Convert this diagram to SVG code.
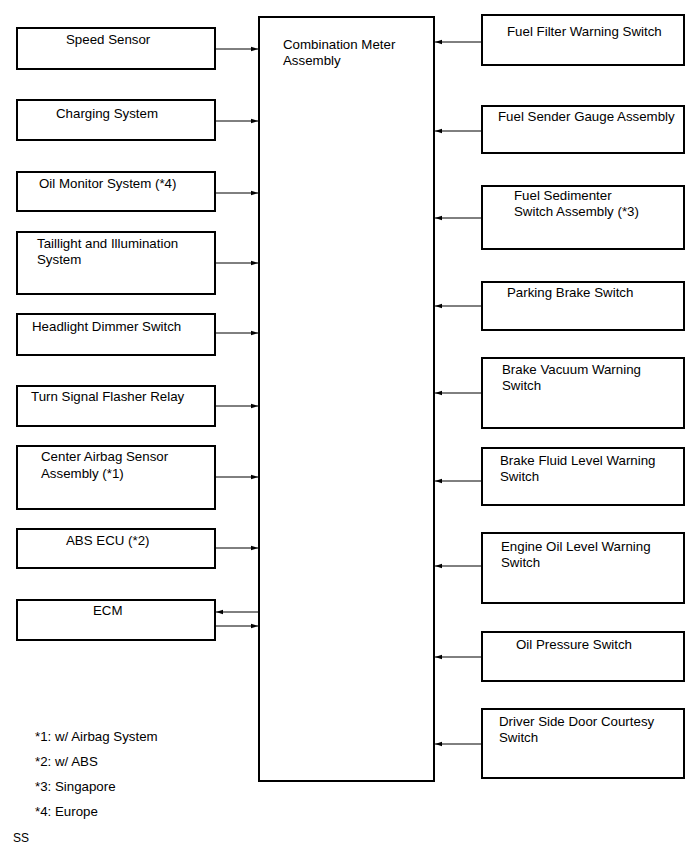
<svg xmlns="http://www.w3.org/2000/svg" width="691" height="854" viewBox="0 0 691 854">
<style>
.box{fill:#fff;stroke:#000;stroke-width:2}
.t{font-family:"Liberation Sans",Arial,sans-serif;font-size:13.3px;fill:#000}
.n{font-family:"Liberation Sans",Arial,sans-serif;font-size:13.3px;fill:#000}
.c{stroke:#000;stroke-width:1;fill:none;marker-end:url(#ah)}
</style>
<defs>
<marker id="ah" markerUnits="userSpaceOnUse" markerWidth="8" markerHeight="6" refX="7" refY="3" orient="auto">
<path d="M0,0.8 L7,3 L0,5.2 Z" fill="#000"/>
</marker>
</defs>
<rect width="691" height="854" fill="#fff"/>
<g id="meter"><rect class="box" x="259" y="17" width="175" height="764"/><text class="t" x="283" y="49">Combination Meter</text><text class="t" x="283" y="65">Assembly</text></g>
<g id="speed"><rect class="box" x="17" y="28" width="198" height="41"/><text class="t" x="66" y="44">Speed Sensor</text></g>
<g id="charging"><rect class="box" x="17" y="100" width="198" height="40"/><text class="t" x="56" y="118">Charging System</text></g>
<g id="oilmon"><rect class="box" x="17" y="172" width="198" height="39"/><text class="t" x="39" y="188">Oil Monitor System (*4)</text></g>
<g id="taillight"><rect class="box" x="17" y="232" width="198" height="62"/><text class="t" x="37" y="248">Taillight and Illumination</text><text class="t" x="37" y="264">System</text></g>
<g id="headlight"><rect class="box" x="17" y="314" width="198" height="41"/><text class="t" x="32" y="331">Headlight Dimmer Switch</text></g>
<g id="turn"><rect class="box" x="17" y="386" width="198" height="40"/><text class="t" x="31" y="401">Turn Signal Flasher Relay</text></g>
<g id="airbag"><rect class="box" x="17" y="446" width="198" height="63"/><text class="t" x="41" y="461">Center Airbag Sensor</text><text class="t" x="41" y="478">Assembly (*1)</text></g>
<g id="abs"><rect class="box" x="17" y="529" width="198" height="39"/><text class="t" x="66" y="545">ABS ECU (*2)</text></g>
<g id="ecm"><rect class="box" x="17" y="600" width="198" height="40"/><text class="t" x="93" y="615">ECM</text></g>
<g id="fuelfilter"><rect class="box" x="482" y="15" width="202" height="50"/><text class="t" x="507" y="36">Fuel Filter Warning Switch</text></g>
<g id="fuelsender"><rect class="box" x="482" y="106" width="202" height="47"/><text class="t" x="498" y="121">Fuel Sender Gauge Assembly</text></g>
<g id="sedimenter"><rect class="box" x="482" y="186" width="202" height="63"/><text class="t" x="514" y="200">Fuel Sedimenter</text><text class="t" x="514" y="216">Switch Assembly (*3)</text></g>
<g id="parking"><rect class="box" x="482" y="282" width="202" height="48"/><text class="t" x="507" y="297">Parking Brake Switch</text></g>
<g id="vacuum"><rect class="box" x="482" y="358" width="202" height="70"/><text class="t" x="502" y="374">Brake Vacuum Warning</text><text class="t" x="502" y="390">Switch</text></g>
<g id="fluid"><rect class="box" x="482" y="448" width="202" height="57"/><text class="t" x="500" y="465">Brake Fluid Level Warning</text><text class="t" x="500" y="481">Switch</text></g>
<g id="engineoil"><rect class="box" x="482" y="533" width="202" height="70"/><text class="t" x="501" y="551">Engine Oil Level Warning</text><text class="t" x="501" y="567">Switch</text></g>
<g id="oilpressure"><rect class="box" x="482" y="632" width="202" height="49"/><text class="t" x="516" y="649">Oil Pressure Switch</text></g>
<g id="door"><rect class="box" x="482" y="709" width="202" height="69"/><text class="t" x="499" y="726">Driver Side Door Courtesy</text><text class="t" x="499" y="742">Switch</text></g>
<g id="connectors">
<line class="c" x1="216" y1="49" x2="258" y2="49"/>
<line class="c" x1="216" y1="121" x2="258" y2="121"/>
<line class="c" x1="216" y1="193" x2="258" y2="193"/>
<line class="c" x1="216" y1="263" x2="258" y2="263"/>
<line class="c" x1="216" y1="333" x2="258" y2="333"/>
<line class="c" x1="216" y1="406" x2="258" y2="406"/>
<line class="c" x1="216" y1="477" x2="258" y2="477"/>
<line class="c" x1="216" y1="548" x2="258" y2="548"/>
<line class="c" x1="258" y1="612" x2="216" y2="612"/>
<line class="c" x1="216" y1="626" x2="258" y2="626"/>
<line class="c" x1="481" y1="42" x2="435" y2="42"/>
<line class="c" x1="481" y1="131" x2="435" y2="131"/>
<line class="c" x1="481" y1="218" x2="435" y2="218"/>
<line class="c" x1="481" y1="306" x2="435" y2="306"/>
<line class="c" x1="481" y1="393" x2="435" y2="393"/>
<line class="c" x1="481" y1="481" x2="435" y2="481"/>
<line class="c" x1="481" y1="566" x2="435" y2="566"/>
<line class="c" x1="481" y1="657" x2="435" y2="657"/>
<line class="c" x1="481" y1="744" x2="435" y2="744"/>
</g>
<g id="notes">
<text class="n" x="35" y="741">*1: w/ Airbag System</text>
<text class="n" x="35" y="766">*2: w/ ABS</text>
<text class="n" x="35" y="791">*3: Singapore</text>
<text class="n" x="35" y="816">*4: Europe</text>
<text class="n" x="13" y="842" style="font-size:12px">SS</text>
</g>
</svg>
